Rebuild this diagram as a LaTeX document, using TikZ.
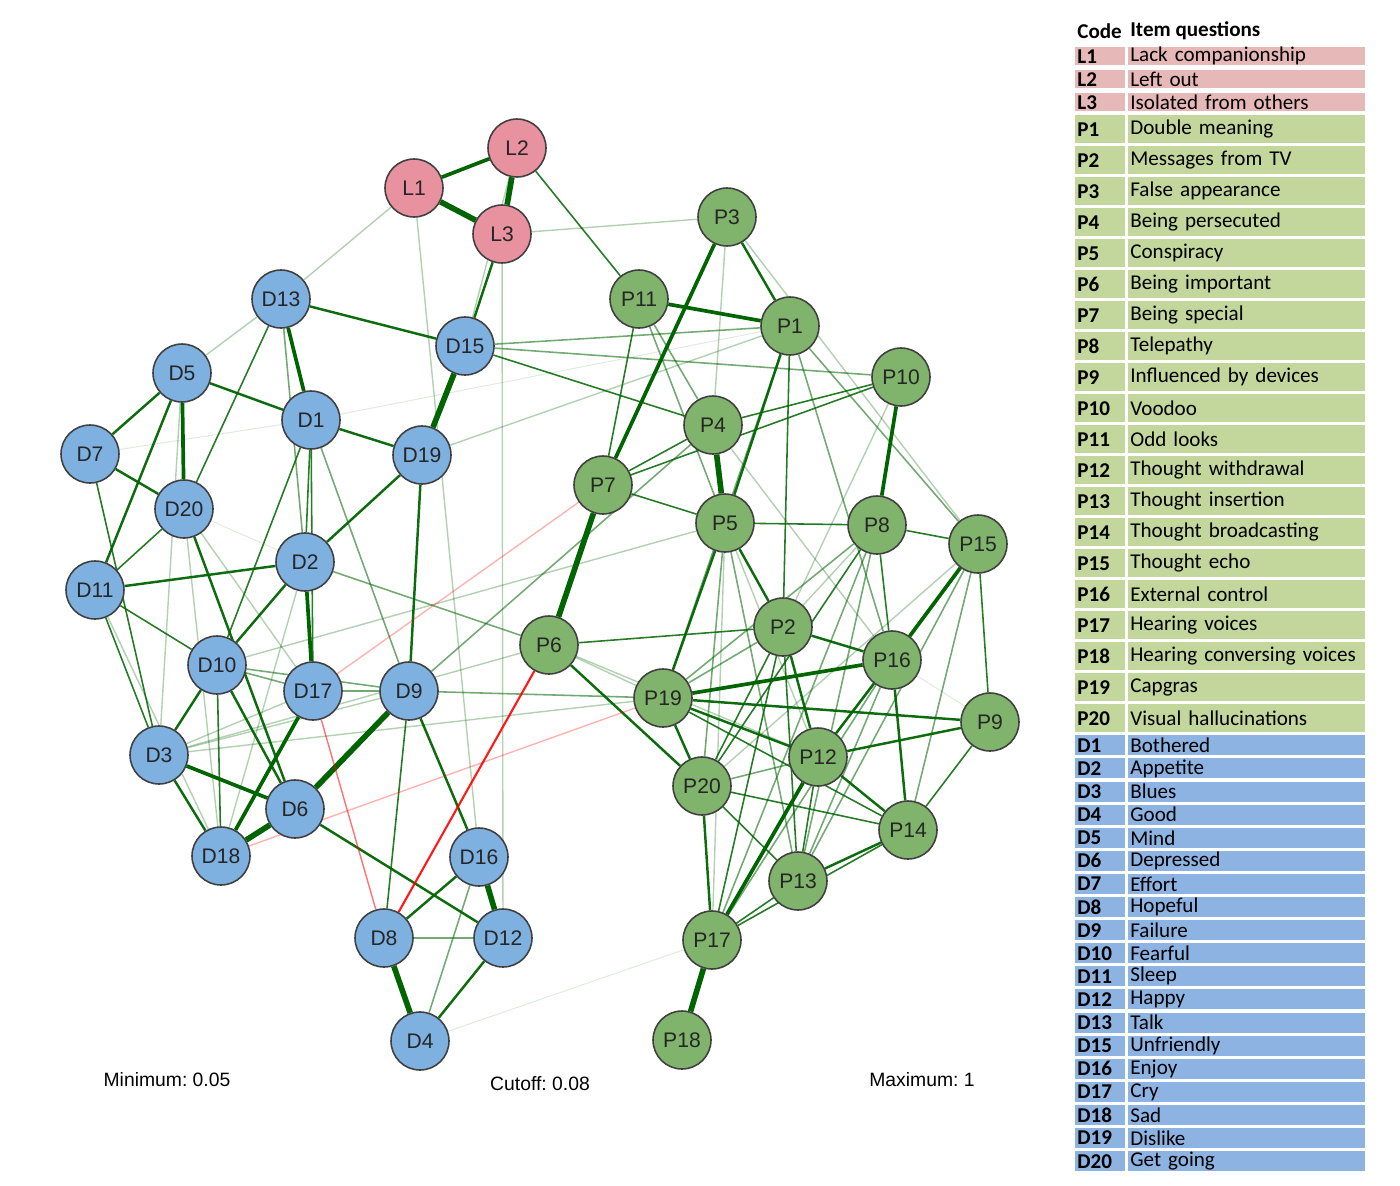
\documentclass[tikz,border=0pt]{standalone}
\usepackage{fontspec}
\setmainfont{Liberation Sans}
\newfontfamily\tablefont{Carlito}
\usetikzlibrary{backgrounds}
\frenchspacing
\definecolor{lonepink}{HTML}{E8919F}
\definecolor{psygreen}{HTML}{80B36B}
\definecolor{depblue}{HTML}{7EB0E0}
\definecolor{edgegreen}{HTML}{006400}
\definecolor{edgered}{HTML}{FF0000}
\definecolor{rowpink}{HTML}{E6B9B8}
\definecolor{rowgreen}{HTML}{C3D69B}
\definecolor{rowblue}{HTML}{8DB3E2}
\tikzset{
  symptom/.style={circle,draw=black!75,line width=0.9pt,minimum size=1.16cm,inner sep=0pt,
    text=black!85,font=\fontsize{12}{12}\selectfont},
  lone/.style={symptom,fill=lonepink},
  psy/.style={symptom,fill=psygreen},
  dep/.style={symptom,fill=depblue},
  wfaint/.style={draw=edgegreen,opacity=0.12,line width=0.6pt},
  wlight/.style={draw=edgegreen,opacity=0.3,line width=0.8pt},
  wmid/.style={draw=edgegreen,opacity=0.55,line width=0.9pt},
  wthin/.style={draw=edgegreen,opacity=0.85,line width=0.9pt},
  wmed/.style={draw=edgegreen,opacity=0.95,line width=1.4pt},
  wbold/.style={draw=edgegreen,line width=2.1pt},
  wheavy/.style={draw=edgegreen,line width=3.2pt},
  negfaint/.style={draw=edgered,opacity=0.3,line width=0.8pt},
  negthin/.style={draw=edgered,opacity=0.55,line width=0.8pt},
  negbold/.style={draw=edgered,opacity=0.9,line width=1.2pt},
  codecell/.style={anchor=north west,fill=#1,text width=0.92cm,inner xsep=0.04cm,inner ysep=0pt,
    align=left,font=\tablefont\fontsize{12}{12}\selectfont\bfseries},
  textcell/.style={anchor=north west,fill=#1,text width=4.66cm,inner xsep=0.04cm,inner ysep=0pt,
    align=left,font=\tablefont\fontsize{12}{12}\selectfont},
  cutlabel/.style={font=\fontsize{11}{11}\selectfont}
}
\begin{document}
\begin{tikzpicture}[x=0.02cm,y=-0.02cm]
\useasboundingbox (0,0) rectangle (1400,1186);

% loneliness items
\node[lone] (L1) at (414,188) {L1};
\node[lone] (L2) at (517,148) {L2};
\node[lone] (L3) at (502,234) {L3};

% depression items
\node[dep] (D13) at (281,299) {D13};
\node[dep] (D15) at (465,346) {D15};
\node[dep] (D5) at (182,373) {D5};
\node[dep] (D1) at (311,420) {D1};
\node[dep] (D19) at (422,455) {D19};
\node[dep] (D7) at (90,454) {D7};
\node[dep] (D20) at (184,509) {D20};
\node[dep] (D2) at (305,562) {D2};
\node[dep] (D11) at (95,590) {D11};
\node[dep] (D10) at (217,665) {D10};
\node[dep] (D17) at (313,691) {D17};
\node[dep] (D9) at (409,691) {D9};
\node[dep] (D3) at (159,755) {D3};
\node[dep] (D6) at (295,809) {D6};
\node[dep] (D18) at (221,856) {D18};
\node[dep] (D16) at (479,857) {D16};
\node[dep] (D8) at (384,938) {D8};
\node[dep] (D12) at (503,938) {D12};
\node[dep] (D4) at (420,1041) {D4};

% psychotic items
\node[psy] (P3) at (727,217) {P3};
\node[psy] (P11) at (639,299) {P11};
\node[psy] (P1) at (790,326) {P1};
\node[psy] (P10) at (901,377) {P10};
\node[psy] (P4) at (713,425) {P4};
\node[psy] (P7) at (603,485) {P7};
\node[psy] (P5) at (725,523) {P5};
\node[psy] (P8) at (877,525) {P8};
\node[psy] (P15) at (978,544) {P15};
\node[psy] (P6) at (549,645) {P6};
\node[psy] (P2) at (783,627) {P2};
\node[psy] (P16) at (892,660) {P16};
\node[psy] (P19) at (663,698) {P19};
\node[psy] (P9) at (990,722) {P9};
\node[psy] (P12) at (818,757) {P12};
\node[psy] (P20) at (702,786) {P20};
\node[psy] (P14) at (908,830) {P14};
\node[psy] (P13) at (798,881) {P13};
\node[psy] (P17) at (712,940) {P17};
\node[psy] (P18) at (682,1040) {P18};

\begin{scope}[on background layer]
\foreach \a/\b in {D7/D1,D20/D2,D4/P17,P16/P9,D1/P1}
  \draw[wfaint] (\a) -- (\b);
\foreach \a/\b in {L3/P3,L1/D16,L3/D12,L1/D13,L2/D15,D13/D5,D5/D3,D20/D18,D20/D17,D2/D18,
    D3/D17,D3/D9,D3/P19,D3/P6,D10/P5,D19/P1,D11/D18,P3/P4,P3/P15,P4/P16,P10/P2,P8/P2,
    P6/P19,P5/P12,P15/P20,P5/P17,P6/P12}
  \draw[wlight] (\a) -- (\b);
\foreach \a/\b in {D1/D9,D9/P4,D9/P19,D17/D9,D10/D17,D10/D9,D2/P6,D13/D2,P11/P4,P8/P19,
    P8/P17,P8/P13,P16/P13,P16/P17,P12/P20,P15/P14,P15/P12,P15/P13,P5/P20,P5/P13,P2/P19,
    D16/D4,D15/P1,D15/P10,P1/P15,P1/P19,P11/P5,P1/P16,D8/D12}
  \draw[wmid] (\a) -- (\b);
\foreach \a/\b in {D13/D20,D1/D10,D7/D3,D11/D3,D11/D10,D10/D18,D9/D8,D1/D2,D1/D17,P11/P7,
    P10/P4,P10/P7,P4/P7,P7/P5,P5/P8,P8/P15,P8/P16,P15/P9,P6/P2,P1/P2,P9/P14,P19/P14,
    P20/P14,P20/P13,P12/P13,P14/P17,P13/P17,P2/P20,P2/P13,P2/P17,P8/P20,L2/P11,D15/P4,
    D20/D11}
  \draw[wthin] (\a) -- (\b);
\foreach \a/\b in {D13/D15,D5/D1,D1/D19,D5/D11,D11/D2,D19/D9,D9/D16,D16/D8,D5/D7,D7/D20,
    D20/D6,D10/D6,D2/D10,D19/D2,D3/D18,D3/D10,D12/D4,D6/D12,P3/P1,P1/P5,P2/P16,P16/P12,
    P19/P12,P19/P9,P19/P20,P6/P20,P5/P2,P5/P19,P2/P12,P9/P12,P12/P14,P14/P13,P20/P17,
    P16/P14,L3/D15}
  \draw[wmed] (\a) -- (\b);
\foreach \a/\b in {L1/L2,D13/D1,D5/D20,D3/D6,D2/D17,D17/D18,P3/P7,P11/P1,P10/P8,P15/P16,
    P12/P17,P19/P16}
  \draw[wbold] (\a) -- (\b);
\foreach \a/\b in {L2/L3,L1/L3,D15/D19,P7/P6,P17/P18,D16/D12,D9/D6,D6/D18,P4/P5,D8/D4}
  \draw[wheavy] (\a) -- (\b);
% negative edges
\draw[negfaint] (D18) -- (P19);
\draw[negfaint] (D17) -- (P7);
\draw[negthin] (D17) -- (D8);
\draw[negbold] (D8) -- (P6);
\end{scope}

% edge weight labels
\node[cutlabel] (minlab) at (167,1080) {Minimum: 0.05};
\node[cutlabel] (cutlab) at (540,1084) {Cutoff: 0.08};
\node[cutlabel] (maxlab) at (922,1080) {Maximum: 1};

% legend table
\node[anchor=west,inner xsep=0.04cm,font=\tablefont\fontsize{12}{12}\selectfont\bfseries] (codehead) at (1075,31) {Code};
\node[anchor=west,inner xsep=0.04cm,font=\tablefont\fontsize{12}{12}\selectfont\bfseries] (itemhead) at (1128,31) {Item questions};
\foreach \cd/\qu [count=\i from 0] in {L1/Lack companionship,L2/Left out,L3/Isolated from others}{
  \node[codecell=rowpink,minimum height=0.36cm] (code\cd) at (1075,47+23*\i) {\cd};
  \node[textcell=rowpink,minimum height=0.36cm] (text\cd) at (1128,47+23*\i) {\qu};
}
\foreach \cd/\qu [count=\i from 0] in {P1/Double meaning,P2/Messages from TV,P3/False appearance,
    P4/Being persecuted,P5/Conspiracy,P6/Being important,P7/Being special,P8/Telepathy,
    P9/Influenced by devices,P10/Voodoo,P11/Odd looks,P12/Thought withdrawal,
    P13/Thought insertion,P14/Thought broadcasting,P15/Thought echo,P16/External control,
    P17/Hearing voices,P18/Hearing conversing voices,P19/Capgras,P20/Visual hallucinations}{
  \node[codecell=rowgreen,minimum height=0.56cm] (code\cd) at (1075,115+31*\i) {\cd};
  \node[textcell=rowgreen,minimum height=0.56cm] (text\cd) at (1128,115+31*\i) {\qu};
}
\foreach \cd/\qu [count=\i from 0] in {D1/Bothered,D2/Appetite,D3/Blues,D4/Good,D5/Mind,
    D6/Depressed,D7/Effort,D8/Hopeful,D9/Failure,D10/Fearful,D11/Sleep,D12/Happy,D13/Talk,
    D15/Unfriendly,D16/Enjoy,D17/Cry,D18/Sad,D19/Dislike,D20/Get going}{
  \node[codecell=rowblue,minimum height=0.4cm] (code\cd) at (1075,735+23.1*\i) {\cd};
  \node[textcell=rowblue,minimum height=0.4cm] (text\cd) at (1128,735+23.1*\i) {\qu};
}
\end{tikzpicture}
\end{document}
